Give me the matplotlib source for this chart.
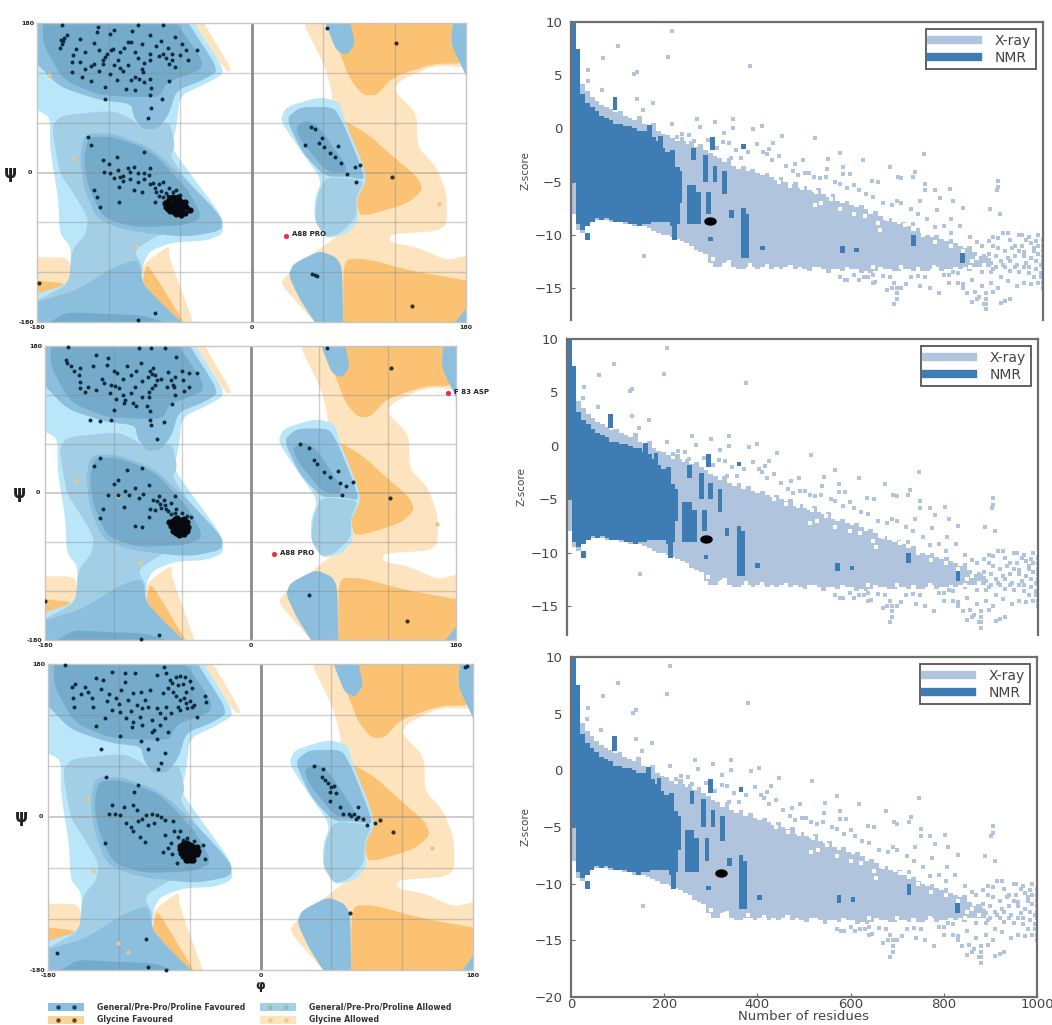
import numpy as np
import matplotlib
matplotlib.use("Agg")
import matplotlib.pyplot as plt
from matplotlib.lines import Line2D
from matplotlib.markers import MarkerStyle
from matplotlib.patches import Polygon, Rectangle
from matplotlib.transforms import Affine2D

W, H = 1052, 1025

# ---------- Ramachandran regions (phi, psi) ----------
GLY_ALLOWED = [
    [(-180,-102),(-153,-102),(-151,-134),(-180,-146)],
    [(-71,-90),(-91,-110),(-92,-134),(-71,-166),(-57,-180),(-49,-180),(-69,-102),(-69,-90)],
    [(-48,180),(-40,180),(-16,123),(-21,121)],
    [(45,180),(180,180),(180,127),(153,129),(125,111),(119,99),(139,71),(139,31),(155,7),(164,-25),
     (164,-70),(116,-74),(116,-84),(139,-90),(164,-106),(180,-100),(180,-180),(53,-180),(29,-142),
     (24,-130),(57,-92),(74,-74),(83,-58),(57,39),(69,87),(62,127),(45,175)],
]
GLY_FAV = [
    [(-180,-130),(-153,-134),(-180,-156)],
    [(-88,-110),(-92,-134),(-60,-180),(-57,-180),(-80,-126)],
    [(80,180),(169,180),(167,155),(178,131),(153,131),(119,115),(105,93),(94,93),(83,111),(71,155)],
    [(77,63),(97,47),(119,19),(139,-5),(144,-21),(130,-38),(91,-54),(88,-33),(95,-1),(80,51)],
    [(77,-104),(97,-104),(133,-118),(180,-130),(180,-180),(77,-180)],
]
GEN_ALLOWED = [
    [(-180,180),(-48,180),(-21,121),(-38,107),(-60,93),(-63,55),(-67,31),(-60,15),(-24,-54),(-24,-74),
     (-38,-82),(-66,-84),(-85,-94),(-91,-110),(-92,-134),(-80,-154),(-59,-180),(-180,-180),(-180,-146),
     (-153,-134),(-151,-90),(-161,-74),(-162,-33),(-169,27),(-169,67),(-180,75)],
    [(24,63),(29,79),(57,91),(74,85),(78,63),(91,19),(97,-9),(88,-33),(90,-58),(80,-74),(63,-80),
     (53,-58),(53,-33),(59,-9),(41,27)],
]
GEN_MID = [
    [(-169,67),(-116,75),(-99,63),(-88,49),(-69,63),(-64,31),(-69,19),(-32,-50),(-43,-66),(-77,-74),
     (-99,-94),(-91,-114),(-94,-134),(-80,-154),(-59,-180),(-180,-180),(-180,-154),(-153,-134),
     (-151,-94),(-139,-74),(-137,-54),(-153,-17),(-161,-1)],
    [(62,-5),(95,-9),(88,-29),(88,-54),(74,-74),(62,-78),(53,-58),(55,-29)],
]
GEN_STRONG = [
    [(-180,180),(-53,180),(-27,123),(-41,111),(-63,99),(-69,71),(-78,53),(-91,51),(-99,67),(-101,83),
     (-127,87),(-161,103),(-180,131)],
    [(-140,47),(-116,47),(-83,29),(-49,-17),(-25,-54),(-25,-70),(-55,-78),(-105,-70),(-130,-56),(-141,-17),(-144,19)],
    [(-180,-156),(-147,-142),(-116,-114),(-95,-104),(-91,-134),(-78,-154),(-59,-180),(-180,-180)],
    [(62,180),(83,180),(87,155),(80,141),(71,147)],
    [(180,180),(169,180),(167,155),(180,117)],
    [(180,-164),(171,-180),(180,-180)],
    [(31,-124),(35,-110),(57,-94),(71,-102),(76,-114),(77,-180),(53,-180),(41,-154)],
    [(29,65),(41,79),(69,79),(77,59),(91,11),(95,-9),(80,-5),(62,-5),(43,23)],
]
GEN_CORE = [
    [(-175,180),(-63,180),(-41,135),(-43,123),(-71,109),(-77,91),(-99,91),(-127,93),(-158,111),(-175,155)],
    [(-137,43),(-116,43),(-85,27),(-55,-17),(-41,-54),(-57,-64),(-99,-66),(-125,-54),(-137,-17),(-141,15)],
    [(-169,-180),(-155,-168),(-127,-170),(-91,-172),(-74,-180)],
    [(37,55),(46,63),(57,55),(80,7),(78,-1),(63,1),(41,39)],
]
GRID_VALUES = [-120, -60, 60, 120]

# ---------- Ramachandran residues per panel (phi, psi) ----------
P1_DOTS = [(-160,160),(-158,158),(-157,162),(-159,155),(-161,150),(-155,165),(-144,161),(-130,169),(-119,167),(-132,156),
 (-147,149),(-151,133),(-144,133),(-151,121),(-140,125),(-132,131),(-121,143),(-118,147),(-116,149),(-123,139),(-125,135),
 (-125,131),(-119,119),(-113,111),(-123,103),(-123,89),(-104,157),(-101,157),(-92,155),(-85,165),(-85,143),(-85,135),
 (-74,143),(-67,143),(-67,135),(-64,127),(-53,135),(-55,147),(-46,148),(-64,163),(-74,177),(-95,178),(-129,175),(-159,177),
 (-104,129),(-101,111),(-91,121),(-85,113),(-84,102),(-98,99),(-85,93),(-75,89),(-69,110),(-84,78),(-87,66),(-92,125),(-90,109),
 (-70,150),(-72,138),(-69,131),(-110,126),(-108,122),(-115,130),(-135,128),
 (-150,142),(-140,145),(-128,148),(-110,145),(-107,150),(-98,145),(-95,138),(-90,132),(-80,152),(-78,140),(-76,158),(-58,155),
 (-60,142),(-98,115),(-94,112),(-105,100),(-112,135),(-142,115),(-135,110),(-128,122),(-100,170),(-115,172),
 (-137,43),(-135,33),(-125,15),(-113,19),(-124,1),(-119,-1),(-99,7),(-95,-1),(-85,5),(-110,-5),(-111,-17),(-132,-21),(-130,-30),
 (-127,-41),(-111,-35),(-99,-21),(-92,-24),(-81,-36),(-90,25),(-81,-19),(-83,-13),(-74,-11),(-69,-19),(-63,-21),(-60,-27),
 (-120,10),(-112,3),(-104,6),(-102,1),(-90,-1),(-86,-3),(-108,-4),(-115,-7),(-78,-14),(-76,-22),(-72,-25),
 (-108,-10),(-102,-8),(-95,-12),(-90,-8),(-85,-14),(-80,-24),(-78,-28),(-74,-30),(-70,-28),(-66,-24),
 (50,55),(53,52),(59,42),(45,33),(57,35),(61,31),(66,23),(70,19),(73,32),(75,11),(80,-2),(87,7),(91,9),(88,-11),
 (53,-124),(55,-125),(51,-122),(63,174),(-95,-177),(-81,-169)]
P1_CLUSTER = [(-73,-37),(-70,-34),(-68,-31),(-66,-30),(-64,-33),(-62,-30),(-60,-34),(-72,-41),(-70,-44),(-68,-40),(-66,-38),
 (-64,-36),(-62,-38),(-60,-40),(-58,-37),(-56,-36),(-68,-46),(-66,-44),(-64,-42),(-62,-44),(-60,-46),(-58,-43),(-55,-42),
 (-65,-48),(-63,-50),(-61,-49),(-59,-51),(-56,-49),(-52,-45)]
P2_DOTS = [(-162,163),(-161,159),(-157,155),(-149,153),(-135,169),(-125,165),(-138,155),(-149,136),(-149,128),(-142,130),
 (-135,126),(-145,124),(-122,132),(-119,131),(-123,122),(-117,147),(-120,149),(-126,157),(-108,155),(-96,159),(-85,153),
 (-84,145),(-82,138),(-65,167),(-75,177),(-87,178),(-98,177),(-160,179),(-68,132),(-67,130),(-59,138),(-47,147),(-54,147),
 (-54,130),(-73,130),(-89,124),(-89,118),(-101,130),(-103,110),(-111,110),(-120,102),(-100,106),(-91,107),(-69,109),(-88,89),
 (-76,87),(-87,83),(-82,66),(-141,89),(-132,88),(-122,89),(-112,120),(-110,114),(-130,140),(-115,128),(-86,128),(-84,132),(-70,138),
 (-66,142),(-72,148),(-90,142),(-88,150),(-86,146),(-155,150),(-150,145),(-128,135),(-112,140),(-105,145),(-100,150),(-95,137),
 (-78,140),(-60,150),(-58,125),(-66,120),(-95,118),(-105,122),(-118,115),(-88,100),
 (-132,43),(-137,33),(-95,31),(-108,28),(-116,16),(-120,11),(-125,-2),(-101,6),(-98,-6),(-89,10),(-111,-17),(-129,-19),(-132,-30),
 (-101,-41),(-95,-42),(-88,-19),(-89,-29),(-84,-21),(-79,-13),(-75,-15),(-66,-4),(-65,-19),(-52,-29),(-106,-3),(-110,2),(-94,-1),
 (-80,-4),(-76,-8),(-72,-22),(-70,-12),(-116,-3),(-85,-8),(-82,-10),(-78,-18),(-74,-20),(-70,-26),(-66,-24),(-60,-24),(-56,-28),
 (43,60),(51,55),(58,36),(56,40),(64,26),(70,19),(77,27),(78,12),(84,9),(90,14),(80,-2),(51,-125),(67,178),(-96,-179),(-80,-174)]
P2_CLUSTER = [(-71,-36),(-68,-34),(-66,-32),(-64,-31),(-62,-33),(-60,-35),(-58,-32),(-70,-40),(-68,-42),(-66,-38),(-64,-36),
 (-62,-39),(-60,-41),(-58,-38),(-56,-36),(-68,-46),(-66,-44),(-64,-42),(-62,-45),(-60,-47),(-58,-44),(-55,-42),(-65,-49),
 (-63,-51),(-61,-50),(-58,-50),(-56,-47)]
P3_DOTS = [(-160,153),(-157,157),(-149,153),(-146,147),(-159,140),(-158,130),(-142,130),(-139,163),(-133,161),(-126,171),(-115,170),
 (-106,169),(-115,159),(-135,151),(-130,136),(-126,126),(-122,140),(-112,138),(-105,132),(-119,124),(-132,116),(-139,107),(-114,116),
 (-109,106),(-102,118),(-119,95),(-101,89),(-108,146),(-101,147),(-88,167),(-82,177),(-166,179),(-68,166),(-77,161),(-74,147),(-83,146),
 (-66,157),(-63,147),(-68,138),(-63,134),(-58,130),(-47,142),(-46,135),(-54,118),(-68,126),(-80,130),(-88,128),(-92,114),(-81,116),
 (-90,102),(-92,100),(-95,80),(-81,75),(-84,63),(-87,57),(-135,80),(-72,142),(-65,140),(-60,136),(-56,132),(-70,130),(-62,128),(-78,152),
 (-75,158),(-95,130),(-120,133),(-110,125),(-100,128),(-85,122),(-76,122),(-70,155),(-64,165),(-60,160),(-58,152),(-72,165),(-80,170),
 (-94,150),(-98,138),(-118,150),(-128,145),(-143,140),(-152,145),(-108,112),(-100,108),(-85,108),(-88,92),(-78,100),
 (-131,47),(-104,38),(-107,30),(-126,14),(-128,4),(-116,12),(-108,14),(-105,8),(-119,2),(-97,2),(-88,2),(-81,-4),(-104,-5),(-95,-9),
 (-90,-7),(-114,-7),(-108,-17),(-102,-23),(-98,-29),(-132,-31),(-83,-41),(-74,-5),(-73,-17),(-68,-17),(-81,-21),(-49,-33),(-47,-49),
 (-71,-54),(-123,3),(-92,3),(-84,0),(-110,-12),(-100,-2),(-76,-30),(-78,-36),(-75,-44),(-70,-24),(-66,-27),(-62,-25),(-56,-28),
 (45,60),(53,56),(52,47),(55,43),(62,37),(59,30),(64,28),(59,19),(67,12),(70,4),(83,12),(79,4),(83,0),(87,-2),(90,-9),(97,-7),
 (75,3),(77,1),(81,-2),(60,35),(57,40),(175,178),(173,176),(-172,-160),(-97,-143),(-95,-177),(-80,-180)]
P3_CLUSTER = [(-68,-34),(-66,-32),(-64,-30),(-62,-31),(-60,-33),(-58,-34),(-68,-38),(-66,-36),(-64,-35),(-62,-37),(-60,-36),
 (-58,-38),(-56,-36),(-54,-35),(-67,-42),(-65,-40),(-63,-41),(-61,-42),(-59,-41),(-57,-42),(-55,-40),(-53,-40),(-66,-46),(-64,-45),
 (-62,-46),(-60,-47),(-58,-46),(-56,-45),(-54,-44),(-63,-50),(-61,-51),(-59,-51),(-57,-50)]
P1_GLY = [(121,156),(118,-5),(135,-161),(-178,-133)]
P2_GLY = [(123,153),(122,-6),(137,-157),(-180,-132)]
P3_GLY = [(101,-3),(112,-18),(76,-113)]
P1_FAINT = [(-170,117),(-150,16),(-97,-88),(157,-38)]
P2_FAINT = [(-152,16),(-116,-4),(-97,-86),(163,-38)]
P3_FAINT = [(-146,21),(-142,-63),(-121,-148),(-112,-159),(145,-37)]
P1_OUT = [(29,-76,"A88 PRO")]
P2_OUT = [(21,-75,"A88 PRO"),(173,122,"F 83 ASP")]
P3_OUT = []

# ---------- Z-score data (column start every 10 residues) ----------
X_TOP = [10,6,4.2,3.5,3,2.6,2.2,2,1.8,1.5,
 1.6,1.2,1,0.8,1.2,0.4,0.2,0.5,-0.2,-0.5,
 -0.6,-0.9,-1.2,-0.8,-1.5,-1.2,-1.7,-1.5,-2,-2.3,
 -2.6,-2.8,-3.2,-2.8,-3.5,-3.8,-3.5,-4,-3.8,-4.2,
 -4.4,-4.2,-4.6,-4.8,-4.6,-5,-5.2,-5,-5.6,-5.4,
 -5.8,-6,-5.6,-6.2,-6.4,-6.2,-6.8,-7,-6.8,-7.2,
 -7.4,-7.2,-7.6,-8,-7.8,-8.2,-8.6,-8.4,-8.8,-9,
 -8.8,-9.2,-9.6,-9.4,-9.8,-10,-10.2,-10,-10.4,-10.6,
 -10.4,-10.8,-11,-11.2,-11,-11.6,-12,-11.8,-12.2]
X_BOT = [-8,-9.5,-9.8,-9.2,-8.6,-8.6,-8.4,-8.6,-8.8,-8.8,
 -8.6,-9,-9,-9.2,-9.2,-9.2,-9.4,-9.6,-9.8,-10,
 -10,-10.2,-10.4,-10.6,-10.8,-11,-11.4,-11.6,-11.8,-12.6,
 -13,-13,-12.6,-12.4,-13,-13.2,-13.2,-13,-13,-13.2,
 -13,-13,-13.2,-13,-13.2,-13,-12.8,-13.2,-13,-13.2,
 -13.4,-13,-13,-13.2,-13.6,-13.2,-13.2,-13.4,-13,-13.2,
 -13.2,-13.6,-13.4,-13.6,-13.4,-13,-13.2,-13.2,-13.4,-13.4,
 -13.2,-13.2,-13.4,-13,-13.4,-13.4,-13.2,-13,-13.4,-13.2,
 -13.2,-13,-13.2,-13,-13.4,-13,-13,-13,-13]
X_STRAY = [(213,9.2),(100,7.7),(68,6.6),(206,6.7),(139,5.3),(133,5.1),(379,5.9),(37,5.5),(35,4.5),(65,3.6),(139,2.8),(174,2.4),
 (153,1.7),(266,0.9),(213,0.4),(305,0.6),(344,0.9),(404,0.2),(386,-0.1),(446,-0.7),(517,-0.9),(273,0.1),(323,-1.3),(344,0),
 (570,-2.3),(747,-2.4),(545,-2.9),(492,-3),(619,-3),(429,-1.4),(415,-2.4),(407,-2.2),(475,-3.3),(542,-3.8),(577,-3.6),(676,-3.6),
 (729,-4.1),(725,-4.6),(693,-4.6),(651,-5),(637,-4.9),(700,-4.7),(577,-4.3),(591,-4.3),(527,-4.7),(570,-5.2),(750,-5.2),(750,-5.8),
 (771,-5.8),(803,-5.7),(905,-4.9),(905,-5.5),(902,-5.8),(690,-6.8),(739,-6.8),(810,-6.8),(782,-6.5),(831,-7.5),(775,-7.7),(888,-7.6),
 (909,-8),(806,-8.5),(771,-9.3),(725,-9),
 (1000,-10.5),(990,-11),(980,-11.5),(1000,-12),(950,-10),(960,-12),(970,-13),(1000,-14),(990,-14.5),(1000,-15),(980,-14),(940,-11),
 (930,-12.5),(920,-13),(950,-13.5),(910,-14),(900,-13),(890,-14.5),(870,-14.8),(880,-16),(875,-16.5),(880,-17),(860,-16),(840,-15.5),
 (830,-15),(850,-16.3),(920,-16.2),(910,-16.4),(930,-16),(690,-15.5),(690,-16),(685,-16.5),(670,-15.2),(680,-15),(700,-15),(710,-14.6),
 (610,-14.2),(620,-14),(570,-14),(585,-14.2),(640,-14.5),(155,-12),(820,-14.5),(1000,-11),(1000,-11.5),(985,-12.5),(960,-13),(940,-13),
 (890,-13.5),(870,-13.5),(760,-15),(740,-14.8),(800,-14.5),(780,-15.5),(900,-12),(910,-12.5),(895,-11),(930,-10.5),(925,-9.8),(965,-10.5),
 (990,-10),(995,-12.8),(975,-12.2),(950,-11.5),(640,-13.8),(660,-13.9),(720,-14),(750,-14),(790,-13.8),(820,-13.6),(850,-14.2),
 (580,-14.2),(600,-13.8),(630,-14),(645,-14.4),(675,-14),(685,-14.5),(690,-15),(735,-13.9),(810,-13.5),(830,-14.6),(855,-15.4),
 (865,-15.8),(880,-15.5),(880,-16.5),(800,-13.8),(870,-12.5),(880,-12.2),(885,-11.8),(890,-12.6),(895,-13.2),(905,-11.2),(915,-12.8),
 (920,-11.5),(925,-12.2),(930,-13.4),(935,-11.2),(940,-12),(945,-12.8),(955,-11),(960,-11.6),(965,-12.6),(970,-13.6),(975,-10.8),
 (980,-11.2),(985,-13.2),(990,-11.8),(995,-13.6),(1000,-13),(1000,-12.5),(1000,-14.5),(995,-14),(975,-14.6),(960,-14.5),(945,-14.8),
 (925,-14.3),(905,-15),(895,-15.4),(985,-10.6),(970,-10.2),(955,-10),(915,-9.8),(905,-10.3),(895,-10.2),(885,-10.6),
 (225,-0.8),(235,-0.5),(250,-0.6),(240,-1.4),(230,-1.8),(245,-2.2),(260,-1.2),(275,-1.8),(290,-1.1),(270,-2.8),(310,-1.8),(335,-1.4),
 (325,-0.4),(350,-2),(360,-2.8),(340,-2.8),(375,-2.2),(395,-1.5),(420,-1.9),(425,-3),(440,-2.6),(455,-3.5),(470,-4),(480,-4.4),(495,-4.2),
 (505,-4.2),(515,-4.6),(540,-4.6),(560,-5),(585,-5.6),(600,-5.3),(610,-5.8),(625,-6.2),(640,-6.4),(660,-7),(680,-7.2),(700,-7),(720,-7.6),
 (735,-8),(755,-8.5),(790,-9.2),(805,-9.8),(825,-9.2),(845,-10.2),(860,-10.7),(870,-11)]
X_HOLES = [(516,-7.2),(530,-7),(570,-7.6),(622,-8.2),(650,-8.9),(655,-9.5),(707,-9.1),(740,-9.1),(772,-10.7),(790,-10.1),(805,-11),
 (850,-12.5),(300,-12.3),(330,-12.7),(380,-12.8),(415,-12.9),(520,-6),(490,-5.6),(600,-8),(670,-8.5),(680,-8.2),(745,-10),(830,-11.5),
 (860,-12.2),(875,-12.8),(440,-5),(465,-5.4),(550,-6.6),(640,-13),(700,-13),(770,-13),(845,-13)]
NMR_TOP = [10,7.5,3.2,2.4,2,1.6,1.2,1,0.8,0.4,0.4,0.2,0.2,0,-0.2,-0.2,-0.6,-0.8,-1.2,-1.8,-2.2,-3,-3.6]
NMR_BOT = [-5,-9,-9.5,-9.2,-8.8,-8.4,-8.6,-8.4,-8.6,-8.8,-8.8,-8.8,-9,-9,-9.2,-9,-9,-8.8,-8.8,-8.8,-8.8,-9.2,-9]
NMR_STRIPS = [(88,1.7,3),(162,-2.5,0.3),(184,-2,-0.7),(210,-3.5,-2),(255,-3,-1.8),(225,-7,-4),(280,-5,-2.5),(295,-2,-0.8),(300,-5,-3.5),
 (320,-6.2,-4),(245,-9,-5.3),(255,-9,-5.3),(265,-9,-6),(287,-8,-6),(360,-12.2,-7.5),(368,-12.2,-8),(335,-8.4,-7.7),(215,-10.5,-8),
 (30,-10.5,-9.8),(360,-1.9,-1.5),(290,-10.6,-10.2),(400,-11.4,-11),(570,-11.7,-11),(600,-11.6,-11.2),(720,-11,-10),(825,-12.6,-11.7)]
Z_REF = [(295,-8.7),(295,-8.7),(322,-9.1)]
Z_YMIN = [-18,-17.7,-20]
Z_TICKS = [10,5,0,-5,-10,-15]
LEGEND_LABELS = ["X-ray","NMR"]
RAMA_LEGEND = ["General/Pre-Pro/Proline Favoured","General/Pre-Pro/Proline Allowed","Glycine Favoured","Glycine Allowed"]

C_CORE, C_STRONG, C_MID, C_LIGHT = "#74abcb", "#8cbfde", "#a3cfe6", "#b9e6f8"
C_ORANGE, C_PALE = "#fbc273", "#fde4bf"
C_XRAY, C_NMR = "#b0c4de", "#3e7cb4"
C_TEXT = "#444444"

fig = plt.figure(figsize=(W/100, H/100), dpi=100, facecolor="white")


def ax_px(l, t, r, b):
    return fig.add_axes([l/W, 1-b/H, (r-l)/W, (b-t)/H])


def smooth(poly, n=3, cut=.17):
    pts = [np.array(p, float) for p in poly]
    sharp = [abs(p[0]) >= 180 or abs(p[1]) >= 180 for p in pts]
    for _ in range(n):
        new, flag = [], []
        for i in range(len(pts)):
            p, q = pts[i], pts[(i+1) % len(pts)]
            sp, sq = sharp[i], sharp[(i+1) % len(pts)]
            new.append(p if sp else (1-cut)*p+cut*q); flag.append(sp)
            new.append(q if sq else cut*p+(1-cut)*q); flag.append(sq)
        pts, sharp = new, flag
    return np.array(pts)


def rama(box, dots, cluster, gly, faint, outliers, show_phi=False):
    ax = ax_px(*box)
    ax.set_xlim(-180, 180); ax.set_ylim(-180, 180)
    for polys, col, z in [(GLY_ALLOWED, C_PALE, 1), (GLY_FAV, C_ORANGE, 1.1), (GEN_ALLOWED, C_LIGHT, 1.2),
                          (GEN_MID, C_MID, 1.3), (GEN_STRONG, C_STRONG, 1.4), (GEN_CORE, C_CORE, 1.5)]:
        for p in polys:
            ax.add_patch(Polygon(smooth(p), closed=True, fc=col, ec="none", zorder=z))
    for g in GRID_VALUES:
        ax.axvline(g, color="#8a8a8a", lw=1, alpha=.4, zorder=2)
        ax.axhline(g, color="#8a8a8a", lw=1, alpha=.4, zorder=2)
    ax.axhline(0, color="#8a8a8a", lw=1.1, alpha=.55, zorder=2)
    ax.axvline(0, color="#8a8a8a", lw=2, zorder=2)
    ax.scatter(*zip(*faint), s=10, c="#e6c78f", lw=0, zorder=3)
    ax.scatter(*zip(*gly), s=9, c="#33302a", lw=0, zorder=3)
    ax.scatter(*zip(*dots), s=8, c="#0d2c40", lw=0, zorder=4, clip_on=False)
    ax.scatter(*zip(*cluster), s=20, c="#050a10", lw=0, zorder=4)
    for x, y, label in outliers:
        ax.scatter([x], [y], s=14, c="#e8304a", lw=0, zorder=5, clip_on=False)
        ax.annotate(label, (x, y), xytext=(4, 1), textcoords="offset points", fontsize=5, fontweight="bold",
                    color="#222222", va="center", zorder=5, annotation_clip=False)
    for s in ax.spines.values():
        s.set_color("#c4c4c4"); s.set_linewidth(1)
    ax.set_xticks([-180, 0, 180], ["-180", "0", "180"])
    ax.set_yticks([-180, 0, 180], ["-180", "", "180"])
    ax.tick_params(length=0, labelsize=4.5, pad=2, labelcolor="#222222")
    for t in ax.get_xticklabels()+ax.get_yticklabels():
        t.set_fontweight("bold")
    ax.text(-.062, .5, "ψ", transform=ax.transAxes, fontsize=12, fontweight="bold", ha="center", va="center", color="#222222")
    ax.text(-.017, .5, "0", transform=ax.transAxes, fontsize=4.5, fontweight="bold", ha="center", va="center", color="#222222")
    if show_phi:
        ax.set_xlabel("φ", fontsize=9, fontweight="bold", labelpad=1, color="#222222")
    return ax


def zplot(box, ymin, ref, show_x=False):
    ax = ax_px(*box)
    ax.set_xlim(0, 1000); ax.set_ylim(ymin, 10)
    xb = np.arange(len(X_TOP))*10
    ax.bar(xb, np.subtract(X_TOP, X_BOT), bottom=X_BOT, width=10, align="edge", color=C_XRAY, lw=0, zorder=1)
    sx, sy = zip(*X_STRAY)
    ax.scatter(sx, sy, marker="s", s=11, c=C_XRAY, lw=0, zorder=1)
    hx, hy = zip(*X_HOLES)
    ax.scatter(hx, hy, marker="s", s=9, c="white", lw=0, zorder=1.5)
    nb = np.arange(len(NMR_TOP))*10
    ax.bar(nb, np.subtract(NMR_TOP, NMR_BOT), bottom=NMR_BOT, width=10, align="edge", color=C_NMR, lw=0, zorder=2)
    for n, lo, hi in NMR_STRIPS:
        ax.bar(n, hi-lo, bottom=lo, width=10, align="edge", color=C_NMR, lw=0, zorder=2)
    ax.plot([ref[0]], [ref[1]], marker=MarkerStyle("o", transform=Affine2D().scale(1.6, 1)), ms=5, mfc="black",
            mec="black", zorder=3, ls="none")
    for s in ax.spines.values():
        s.set_color("#6f6f6f"); s.set_linewidth(1.6)
    ax.set_yticks(Z_TICKS, [str(v).replace("-", "\u2212") for v in Z_TICKS])
    ax.tick_params(axis="y", length=3, labelsize=9.5, labelcolor=C_TEXT, color="#6f6f6f", pad=6, direction="in")
    if show_x:
        ax.set_yticks(Z_TICKS+[-20], [str(v).replace("-", "\u2212") for v in Z_TICKS+[-20]])
        ax.set_xticks([0, 200, 400, 600, 800, 1000])
        ax.tick_params(axis="x", length=3, labelsize=9.5, labelcolor=C_TEXT, color="#6f6f6f", direction="in", pad=1)
        ax.set_xlabel("Number of residues", fontsize=9.5, color=C_TEXT, labelpad=-1)
    else:
        ax.spines["bottom"].set_visible(False)
        ax.set_xticks([])
    ax.set_ylabel("Z-score", fontsize=7.5, color=C_TEXT, labelpad=3)
    hs = [Line2D([], [], color=C_XRAY, lw=6), Line2D([], [], color=C_NMR, lw=6)]
    leg = ax.legend(hs, LEGEND_LABELS, loc="upper right", fontsize=10, frameon=True, fancybox=False, framealpha=1,
                    edgecolor="#555555", handlelength=3.4, borderaxespad=.5, labelspacing=.2, handletextpad=1.2,
                    labelcolor=C_TEXT, borderpad=.35)
    leg.get_frame().set_linewidth(1.3)
    return ax


rama((37, 23, 466, 322), P1_DOTS, P1_CLUSTER, P1_GLY, P1_FAINT, P1_OUT)
rama((45, 346, 456, 640), P2_DOTS, P2_CLUSTER, P2_GLY, P2_FAINT, P2_OUT)
rama((48, 664, 473, 970), P3_DOTS, P3_CLUSTER, P3_GLY, P3_FAINT, P3_OUT, show_phi=True)

zplot((571, 22, 1043, 320), Z_YMIN[0], Z_REF[0])
zplot((567, 339, 1038, 635), Z_YMIN[1], Z_REF[1])
zplot((571, 657, 1037, 997), Z_YMIN[2], Z_REF[2], show_x=True)

# Ramachandran key, bottom-left of the figure
key = fig.add_axes([0, 0, 1, 1], facecolor="none", zorder=10)
key.set_xlim(0, W); key.set_ylim(H, 0); key.axis("off")
for (x, y, c, d, label) in [(48, 1003, C_STRONG, "#0d4a70", RAMA_LEGEND[0]), (260, 1003, C_MID, "#8cc09a", RAMA_LEGEND[1]),
                            (48, 1016, "#fcd39b", "#5a4a20", RAMA_LEGEND[2]), (260, 1016, C_PALE, "#e6c78f", RAMA_LEGEND[3])]:
    key.add_patch(Rectangle((x, y), 36, 8, fc=c, ec="none"))
    key.plot([x+10, x+26], [y+4, y+4], ls="none", marker="o", ms=2.2, color=d)
    key.text(x+49, y+4, label, fontsize=5.6, fontweight="bold", color="#333333", va="center", ha="left")

fig.savefig("out.png", dpi=100, facecolor="white")
